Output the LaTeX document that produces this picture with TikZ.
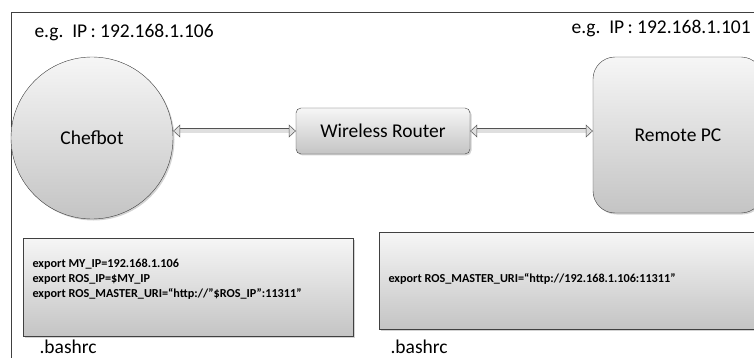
\documentclass[tikz,border=0pt]{standalone}
\usepackage{fontspec}
\setmainfont{Carlito}
\usepackage{tikz}
\usetikzlibrary{arrows.meta, shapes.geometric, positioning, calc, shadows}
\definecolor{EdgeGray}{RGB}{64,64,64}
\definecolor{FillTop}{RGB}{246,246,246}
\definecolor{FillBottom}{RGB}{196,196,196}

\begin{document}
\begin{tikzpicture}[x=1pt, y=-1pt, font=\fontsize{19.5}{24}\selectfont,
	unit/.style={draw=EdgeGray, top color=FillTop, bottom color=FillBottom,
		drop shadow={shadow xshift=1.5pt, shadow yshift=-1.5pt, opacity=0.35}},
	link/.style={draw=EdgeGray!90, line width=0.5pt, double=gray!25, double distance=4pt,
		{Triangle[length=7pt, width=13pt, fill=gray!25]}-{Triangle[length=7pt, width=13pt, fill=gray!25]}},
	bash/.style={font=\bfseries\fontsize{12.2}{15}\selectfont, anchor=base west}]
	\useasboundingbox (0,0) rectangle (754,358);
	\clip (0,0) rectangle (754,358);
	\draw[EdgeGray] (11,400) -- (11,12) -- (800,12);

	% machines
	\node[unit, circle, minimum size=162pt, inner sep=0pt] (chef) at (92,138) {Chefbot};
	\node[unit, rounded corners=5pt, minimum width=174pt, minimum height=46pt] (router) at (383,131) {Wireless Router};
	\node[unit, rounded corners=22pt, minimum width=170pt, minimum height=156pt] (remote) at (678,135) {Remote PC};
	\draw[link] (chef.east |- router.west) -- (router.west);
	\draw[link] (router.east) -- (router.east -| remote.west);

	\node[anchor=base west] (ipchef) at (31,38) {e.g.\ \ IP\,: 192.168.1.106};
	\node[anchor=base west] (ipremote) at (568,34) {e.g.\ \ IP\,: 192.168.1.101};

	% .bashrc contents
	\node[unit, minimum width=330pt, minimum height=98pt] (bashchef) at (188,287) {};
	\node[unit, anchor=west, minimum width=430pt, minimum height=97pt] (bashremote) at (379,280.5) {};
	\foreach \i/\txt in {
		0/{export MY\_IP=192.168.1.106},
		1/{export ROS\_IP=\$MY\_IP},
		2/{export ROS\_MASTER\_URI=“http://”\$ROS\_IP”:11311”}}{
		\node[bash] at (29, {267+\i*15}) {\txt};
	}
	\node[bash] (uri) at (385,282) {export ROS\_MASTER\_URI=“http://192.168.1.106:11311”};
	\node[anchor=base west] (rcchef) at (36,353) {.bashrc};
	\node[anchor=base west] (rcremote) at (387,353) {.bashrc};
\end{tikzpicture}
\end{document}
